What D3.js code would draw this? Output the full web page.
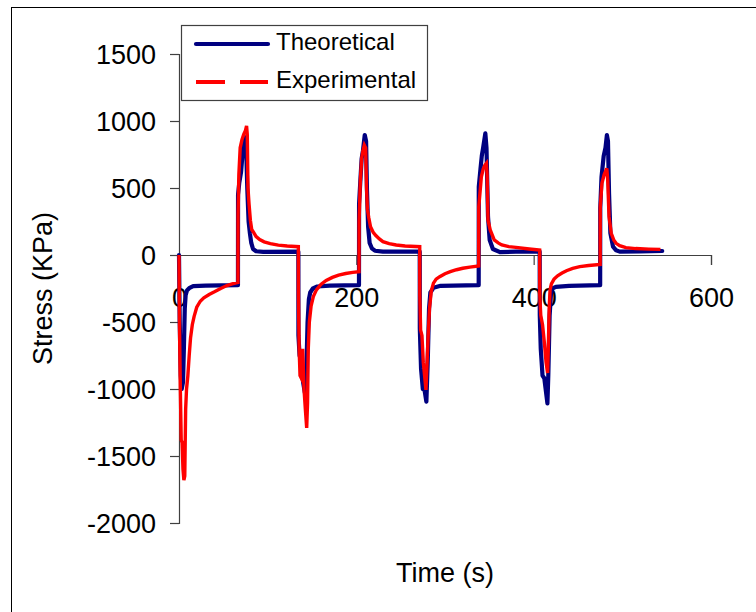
<!DOCTYPE html>
<html>
<head>
<meta charset="utf-8">
<script src="https://cdn.jsdelivr.net/npm/d3@7"></script>
<style>
  html, body { margin: 0; padding: 0; background: #fff; }
  svg { display: block; }
  text { font-family: "Liberation Sans", Arial, sans-serif; fill: #000; }
</style>
</head>
<body>
<svg id="chart" width="756" height="612"></svg>
<script>
// Stress history under alternating loading: model prediction vs. measurement
const seriesNames = ["Theoretical", "Experimental"];
const xTicks = [0, 200, 400, 600];
const yTicks = [-2000, -1500, -1000, -500, 0, 500, 1000, 1500];

const theoTime = [
  0, 0.8, 2, 3, 4.5, 5.5, 6.5, 7.5, 9, 12, 16, 30, 66.5,
  66.6, 68, 70, 72, 74, 75.5, 77, 78.5, 80, 81.5, 83.5, 87, 95, 134.6,
  134.7, 136, 138, 140, 142, 143.5, 145, 146.5, 148, 151, 156, 170, 203,
  203.1, 204.5, 206, 207.5, 209.5, 211, 212, 213.3, 215, 217.5, 221, 230, 271.5,
  271.6, 273, 275, 277, 279, 280.5, 282, 283.5, 287, 295, 338,
  338.1, 340, 341.5, 343, 345.5, 346.8, 348.5, 350.4, 354, 362, 380, 406.8,
  406.9, 408, 410, 412, 413.5, 415.5, 416.5, 418, 419.5, 421, 425, 440, 475,
  475.1, 476.5, 479, 481, 482.6, 483.8, 485, 486.5, 489.5, 493, 497, 520, 545
];
const theoStress = [
  0, -500, -900, -1000, -950, -700, -400, -300, -265, -245, -232, -228, -225,
  450, 540, 620, 780, 880, 860, 500, 250, 160, 90, 45, 28, 24, 25,
  -600, -750, -800, -950, -1030, -900, -500, -330, -280, -250, -235, -228, -225,
  380, 550, 720, 780, 895, 850, 485, 211, 90, 50, 32, 25, 25,
  -550, -850, -1000, -1010, -1094, -800, -400, -280, -245, -230, -225,
  510, 640, 740, 800, 908, 800, 286, 112, 45, 22, 25, 25,
  -450, -700, -900, -920, -1000, -1107, -900, -450, -290, -250, -238, -230, -225,
  350, 580, 740, 800, 895, 850, 462, 164, 62, 35, 25, 27, 30
];

const expTime = [
  0, 0.5, 1.5, 2.5, 3.5, 4.5, 5.5, 6.5, 7.5, 8.5, 10, 11.5, 13, 15, 17, 20, 24, 28, 34, 40, 47, 54, 60, 66.5,
  66.6, 67.5, 69, 71, 73, 75, 76.2, 77, 77.8, 79, 80.5, 82, 84, 87, 91, 96, 103, 112, 122, 134.6,
  134.7, 135.5, 136.5, 138, 139.5, 141, 142.5, 144, 145, 145.8, 147, 149, 151.5, 155, 160, 166, 173, 180, 188, 196, 203,
  203.1, 204.5, 206, 207.5, 209, 210.5, 211.5, 212.5, 214, 216, 219, 222, 226, 230, 237, 245, 255, 271.5,
  271.6, 272.5, 274, 275.5, 277, 278.5, 279.5, 281, 282.5, 284.5, 287, 290, 294, 300, 306, 313, 320, 328, 338,
  338.1, 341, 343, 345, 346.7, 347.5, 348.5, 351, 355.5, 360, 364, 372, 380, 395, 406.8,
  406.9, 408, 410, 412, 414, 415.7, 416.5, 417.5, 418.5, 420, 423, 427, 432, 437, 444, 452, 462, 475,
  475.1, 477, 479.5, 482.5, 483.5, 485, 487.5, 490.5, 493, 497, 504, 515, 530, 543
];
const expStress = [
  0, -500, -1000, -1380, -1400, -1600, -1680, -1650, -1150, -1000, -900, -750, -620, -520, -460, -390, -345, -320, -295, -275, -250, -228, -215, -205,
  300, 600, 800, 860, 900, 930, 963, 900, 500, 380, 260, 190, 170, 137, 115, 98, 85, 74, 67, 62,
  -300, -700, -900, -920, -700, -1000, -1150, -1290, -1100, -700, -500, -380, -310, -260, -220, -190, -167, -150, -138, -130, -125,
  250, 550, 720, 780, 820, 800, 500, 340, 280, 210, 170, 145, 120, 100, 85, 75, 67, 62,
  -300, -560, -600, -800, -900, -1007, -850, -600, -400, -270, -210, -180, -162, -140, -124, -110, -99, -90, -82,
  360, 584, 640, 670, 684, 600, 261, 187, 112, 90, 75, 62, 57, 45, 37,
  -300, -450, -520, -650, -800, -881, -700, -400, -260, -215, -180, -155, -135, -117, -100, -87, -78, -70,
  360, 535, 600, 647, 560, 286, 162, 110, 87, 70, 55, 48, 44, 42
];

const svg = d3.select("#chart");

// outer frame of the chart area
svg.append("rect")
  .attr("x", 11.5).attr("y", 7.5)
  .attr("width", 780).attr("height", 640)
  .attr("fill", "#fff").attr("stroke", "#000").attr("stroke-width", 1);

const x = d3.scaleLinear().domain([0, 600]).range([179, 711]);
const y = d3.scaleLinear().domain([-2000, 1500]).range([523, 54]);

const axisColor = "#404040";
const plainNumber = d => String(d);   // keeps an ASCII hyphen for negatives

// y axis on the left edge of the plot
const yAxis = svg.append("g").attr("transform", `translate(${x(0)},0)`)
  .call(d3.axisLeft(y).tickValues(yTicks).tickSize(9).tickPadding(14).tickFormat(plainNumber));
yAxis.select(".domain").attr("stroke", axisColor).attr("stroke-width", 1.2);
yAxis.selectAll(".tick line").attr("stroke", axisColor).attr("stroke-width", 1.2);
yAxis.selectAll(".tick text")
  .attr("font-size", 27).attr("font-family", "Liberation Sans, Arial, sans-serif")
  .attr("fill", "#000").attr("dy", "0.35em");

// x axis crossing at zero stress
const xAxis = svg.append("g").attr("transform", `translate(0,${y(0)})`)
  .call(d3.axisBottom(x).tickValues(xTicks).tickSize(10).tickPadding(23).tickFormat(plainNumber));
xAxis.select(".domain").attr("stroke", axisColor).attr("stroke-width", 1.2);
xAxis.selectAll(".tick line").attr("stroke", axisColor).attr("stroke-width", 1.2);
xAxis.selectAll(".tick text")
  .attr("font-size", 27).attr("font-family", "Liberation Sans, Arial, sans-serif")
  .attr("fill", "#000").attr("dy", "0.71em");

// axis titles
svg.append("text")
  .attr("x", (x(0) + x(600)) / 2).attr("y", 582)
  .attr("text-anchor", "middle").attr("font-size", 27)
  .text("Time (s)");
svg.append("text")
  .attr("transform", `translate(52,${(y(1500) + y(-2000)) / 2}) rotate(-90)`)
  .attr("text-anchor", "middle").attr("font-size", 27)
  .text("Stress (KPa)");

// stress curves
const line = d3.line().x(d => x(d[0])).y(d => y(d[1]));
const theo = theoTime.map((t, i) => [t, theoStress[i]]);
const exp = expTime.map((t, i) => [t, expStress[i]]);

svg.append("path").datum(theo)
  .attr("d", line).attr("fill", "none")
  .attr("stroke", "#000080").attr("stroke-width", 4.2)
  .attr("stroke-linejoin", "round").attr("stroke-linecap", "round");
svg.append("path").datum(exp)
  .attr("d", line).attr("fill", "none")
  .attr("stroke", "#ff0000").attr("stroke-width", 3.4)
  .attr("stroke-linejoin", "miter").attr("stroke-linecap", "butt");

// legend
const legend = svg.append("g");
legend.append("rect")
  .attr("x", 181.5).attr("y", 25.5).attr("width", 246).attr("height", 75)
  .attr("fill", "#fff").attr("stroke", "#404040").attr("stroke-width", 1.2);
const legendRows = [
  { name: seriesNames[0], color: "#000080", dash: null, yy: 44, width: 4.2 },
  { name: seriesNames[1], color: "#ff0000", dash: "29,15", yy: 82, width: 4 }
];
legendRows.forEach(r => {
  legend.append("line")
    .attr("x1", 196).attr("x2", 268).attr("y1", r.yy).attr("y2", r.yy)
    .attr("stroke", r.color).attr("stroke-width", r.width)
    .attr("stroke-linecap", r.dash ? "butt" : "round")
    .attr("stroke-dasharray", r.dash);
  legend.append("text")
    .attr("x", 276).attr("y", r.yy + 5.5)
    .attr("font-size", 24)
    .text(r.name);
});
</script>
</body>
</html>
